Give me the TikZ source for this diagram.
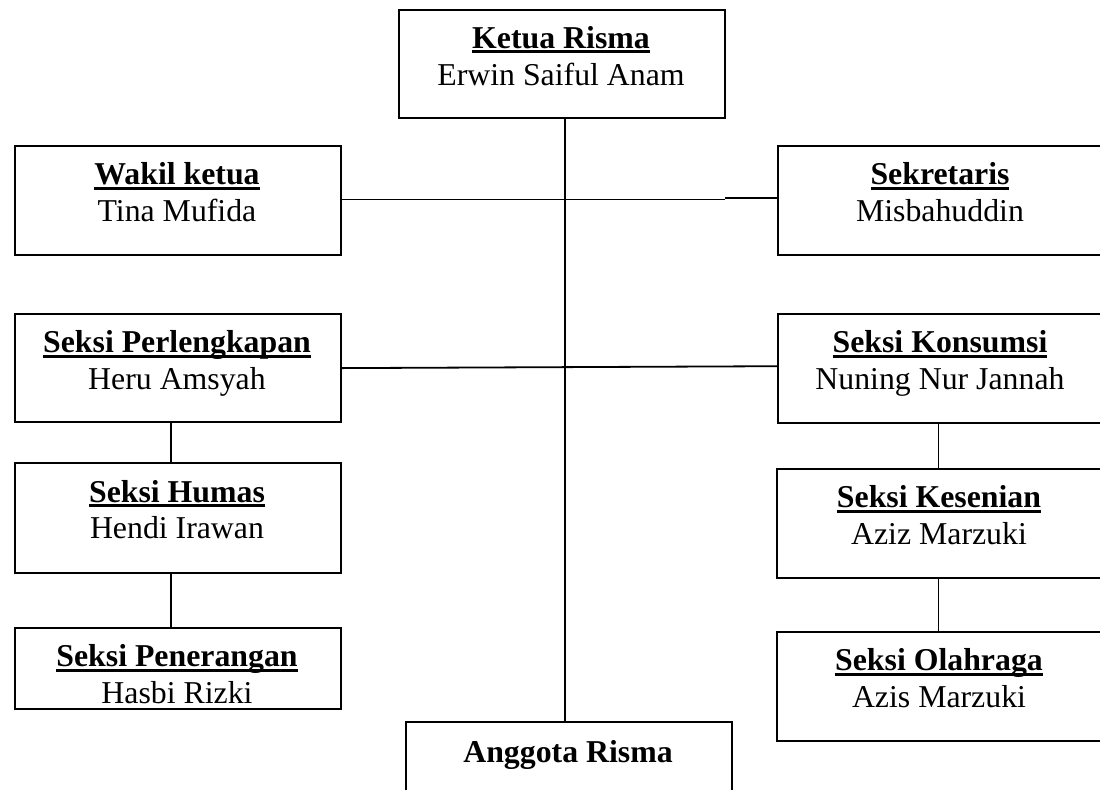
\documentclass[tikz,border=0pt]{standalone}
\usepackage{fontspec}
\setmainfont{Liberation Serif}
\newcommand\ulbf[1]{\setbox0\hbox{\bfseries #1}\rlap{\rule[-2.6pt]{\wd0}{1.4pt}}\box0}
\begin{document}
\begin{tikzpicture}[x=0.5pt,y=-0.5pt,
  orgbox/.style={draw, line width=1.1pt, minimum width=163pt, minimum height=54pt, inner sep=0pt, anchor=north west},
  ln/.style={line width=0.9pt},
  txt/.style={anchor=base, inner sep=0pt, font=\fontsize{15.9pt}{19pt}\selectfont}]
\useasboundingbox (0,0) rectangle (1100,789);
\clip (0,0) rectangle (1100,789);
% boxes
\node[orgbox] (ketua) at (398,9) {};
\node[orgbox, minimum height=54.5pt] (wakil) at (14,145) {};
\node[orgbox, minimum height=54.5pt] (sekr) at (777,145) {};
\node[orgbox] (perl) at (14,313) {};
\node[orgbox, minimum height=54.5pt] (kons) at (777,313) {};
\node[orgbox, minimum height=55pt] (humas) at (14,462) {};
\node[orgbox, minimum height=54.5pt] (kesen) at (776,468) {};
\node[orgbox, minimum height=40.5pt] (pener) at (14,627) {};
\node[orgbox, minimum height=54.5pt] (olah) at (776,631) {};
\node[orgbox] (anggota) at (405,721) {};
% texts
\node[txt] (ketua1) at (561,48) {\ulbf{Ketua Risma}};
\node[txt] (ketua2) at (561,85) {Erwin Saiful Anam};
\node[txt] (wakil1) at (177,184.5) {\ulbf{Wakil ketua}};
\node[txt] (wakil2) at (177,221.5) {Tina Mufida};
\node[txt] (sekr1) at (940,184.5) {\ulbf{Sekretaris}};
\node[txt] (sekr2) at (940,221.5) {Misbahuddin};
\node[txt] (perl1) at (177,352.5) {\ulbf{Seksi Perlengkapan}};
\node[txt] (perl2) at (177,389.5) {Heru Amsyah};
\node[txt] (kons1) at (940,352.5) {\ulbf{Seksi Konsumsi}};
\node[txt] (kons2) at (940,389.5) {Nuning Nur Jannah};
\node[txt] (humas1) at (177,502) {\ulbf{Seksi Humas}};
\node[txt] (humas2) at (177,538.5) {Hendi Irawan};
\node[txt] (kesen1) at (939,507.5) {\ulbf{Seksi Kesenian}};
\node[txt] (kesen2) at (939,544.5) {Aziz Marzuki};
\node[txt] (pener1) at (177,666.5) {\ulbf{Seksi Penerangan}};
\node[txt] (pener2) at (177,703) {Hasbi Rizki};
\node[txt] (olah1) at (939,670.5) {\ulbf{Seksi Olahraga}};
\node[txt] (olah2) at (939,707) {Azis Marzuki};
\node[txt, font=\fontsize{15.9pt}{19pt}\selectfont\bfseries] (ang1) at (568,762) {Anggota Risma};
% connectors
\coordinate (sp) at (565,0);
\coordinate (jn) at (725,0);
\coordinate (lx) at (171,0);
\coordinate (rx) at (938.5,0);
\draw[ln] (ketua.south -| sp) -- (anggota.north -| sp);
\draw[ln] ([yshift=0.6pt]wakil.east) -- ([yshift=0.6pt]wakil.east -| jn);
\draw[ln] ([yshift=1.3pt]sekr.west) -- ([yshift=1.3pt]sekr.west -| jn);
\draw[ln] (perl.east) -- ([yshift=1.2pt]kons.west);
\draw[ln] (perl.south -| lx) -- (humas.north -| lx);
\draw[ln] (humas.south -| lx) -- (pener.north -| lx);
\draw[ln] (kons.south -| rx) -- (kesen.north -| rx);
\draw[ln] (kesen.south -| rx) -- (olah.north -| rx);
\end{tikzpicture}
\end{document}
